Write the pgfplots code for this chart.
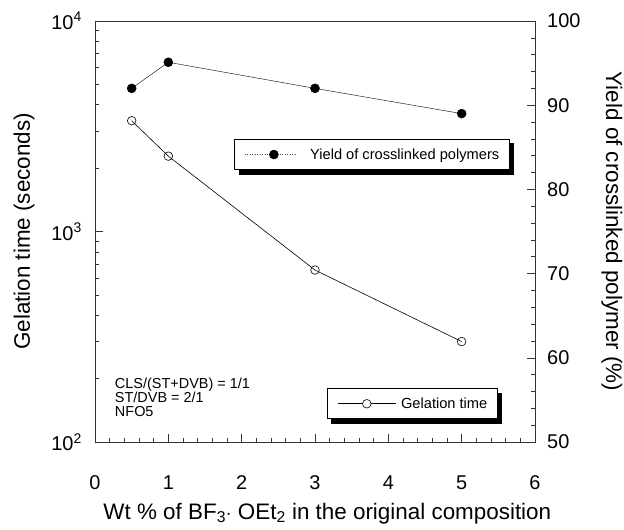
\documentclass[border=0pt]{standalone}
\usepackage{pgfplots}
\pgfplotsset{compat=1.18}
\usepackage{pgfplotstable}
\usepackage{fontspec}
\setmainfont{Liberation Sans}
\pgfdeclarelayer{background}
\pgfsetlayers{background,main}

\pgfplotstableread{
x y
0.5 3360
1 2280
3 656
5 300
}\geltable
\pgfplotstableread{
x y
0.5 92.0
1 95.1
3 92.0
5 89.0
}\yieldtable

\begin{document}
\begin{tikzpicture}
\pgfplotsset{
 every axis/.append style={
  scale only axis, width=440bp, height=421bp,
  xmin=0, xmax=6,
  tick align=inside,
  major tick length=8bp, minor tick length=4bp,
  /pgf/number format/assume math mode=true,
  tick label style={font=\fontsize{20}{20}\selectfont},
  label style={font=\fontsize{22.5}{24}\selectfont},
  axis line style={line width=0.7pt, black!80},
  every tick/.style={black!80, line width=0.6pt},
  legend cell align=left,
  legend style={draw=black, fill=white, line width=1.2pt, font=\fontsize{14.7}{16}\selectfont,
    inner xsep=10bp, inner ysep=9bp, nodes={inner sep=0pt}},
 }
}
\begin{axis}[
  ymode=log, ymin=100, ymax=10000,
  xtick={0,...,6}, minor x tick num=4,
  xtick pos=left, ytick pos=left,
  ytick={100,1000,10000},
  yticklabels={10\textsuperscript{2},10\textsuperscript{3},10\textsuperscript{4}},
  xticklabel style={anchor=base, yshift=-47bp},
  yticklabel style={anchor=east, inner sep=0pt, xshift=-13bp},
  xlabel={Wt \% of BF\textsubscript{3}$\cdot$ OEt\textsubscript{2} in the original composition},
  xlabel style={at={(rel axis cs:0.528,-0.183)}, anchor=base},
  ylabel={Gelation time (seconds)},
  ylabel style={at={(rel axis cs:-0.161,0.5)}, anchor=center},
  legend style={at={(rel axis cs:0.527,0.128)}, anchor=north west, name=legG},
]
\addplot[black, line width=0.6pt, mark=o, mark size=4.3bp, mark options={fill=white, solid},
  legend image code/.code={\draw[line width=0.6pt, black] (0bp,0bp) -- (58bp,0bp);
    \draw[line width=0.6pt, black, fill=white] (29bp,0bp) circle (4.3bp); \path (63bp,0bp);}] table {\geltable};
\addlegendentry{Gelation time}
\node[anchor=north west, align=left, font=\fontsize{14.5}{14.3}\selectfont, inner sep=0pt] at (rel axis cs:0.045,0.1527) {CLS/(ST+DVB) = 1/1\\ST/DVB = 2/1\\NFO5};
\coordinate (SW) at (rel axis cs:0,0);
\coordinate (NE) at (rel axis cs:1,1);
\end{axis}
\begin{axis}[
  axis x line=none, axis y line*=right,
  tick align=inside,
  ymin=50, ymax=100, ytick={50,60,...,100}, minor y tick num=4,
  yticklabel style={anchor=west, inner sep=0pt, xshift=12bp},
  ylabel={Yield of crosslinked polymer (\%)},
  ylabel style={at={(rel axis cs:1.175,0.5)}, anchor=center, rotate=180},
  legend style={at={(rel axis cs:0.316,0.72)}, anchor=north west, name=legY},
]
\addplot[black!85, line width=0.5pt, mark=*, mark size=4.5bp, mark options={solid, black},
  legend image code/.code={\draw[line width=0.5pt, black!70, dotted] (0bp,0bp) -- (52bp,0bp);
    \fill[black] (29bp,0bp) circle (4.5bp); \path (65bp,0bp);}] table {\yieldtable};
\addlegendentry{Yield of crosslinked polymers}
\end{axis}
\begin{pgfonlayer}{background}
\fill[black] ([shift={(4.5bp,-4.5bp)}]legG.south west) rectangle ([shift={(4.5bp,-4.5bp)}]legG.north east);
\fill[black] ([shift={(4.5bp,-4.5bp)}]legY.south west) rectangle ([shift={(4.5bp,-4.5bp)}]legY.north east);
\end{pgfonlayer}
\pgfresetboundingbox
\path ([shift={(-95bp,-87bp)}]SW) rectangle ([shift={(89bp,21bp)}]NE);
\end{tikzpicture}
\end{document}
